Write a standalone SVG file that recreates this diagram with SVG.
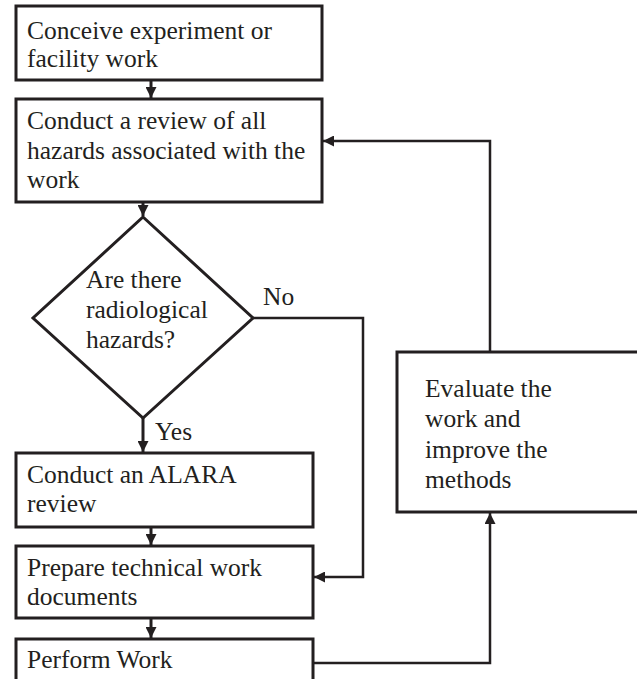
<svg xmlns="http://www.w3.org/2000/svg" width="637" height="679" viewBox="0 0 637 679">
<defs>
<style>
.box{fill:#fff;stroke:#231f20;stroke-width:3}
.t{font-family:"Liberation Serif","Times New Roman",serif;font-size:25.5px;fill:#231f20}
.c{fill:none;stroke:#231f20;stroke-width:3}
.c2{fill:none;stroke:#231f20;stroke-width:2.5}
</style>
<marker id="ah" viewBox="0 0 10 10" refX="10" refY="5" markerWidth="11" markerHeight="11" markerUnits="userSpaceOnUse" orient="auto">
<path d="M0,0 L10,5 L0,10 Z" fill="#231f20"/>
</marker>
</defs>
<rect width="637" height="679" fill="#fff"/>
<g id="connectors">
<line class="c" x1="151" y1="80" x2="151" y2="98" marker-end="url(#ah)"/>
<line class="c" x1="143" y1="202" x2="143" y2="216" marker-end="url(#ah)"/>
<line class="c" x1="143" y1="418" x2="143" y2="452" marker-end="url(#ah)"/>
<line class="c" x1="151" y1="527" x2="151" y2="545" marker-end="url(#ah)"/>
<line class="c" x1="151" y1="618" x2="151" y2="638" marker-end="url(#ah)"/>
<polyline class="c2" points="253,318 363,318 363,577 314,577" marker-end="url(#ah)"/>
<polyline class="c2" points="313,663 490,663 490,513" marker-end="url(#ah)"/>
<polyline class="c2" points="490,352 490,141 323,141" marker-end="url(#ah)"/>
<text class="t" x="263" y="305">No</text>
<text class="t" x="155" y="440">Yes</text>
</g>
<g id="conceive">
<rect class="box" x="16" y="6" width="306" height="74"/>
<text class="t" x="27" y="39">Conceive experiment or</text>
<text class="t" x="27" y="67">facility work</text>
</g>
<g id="review">
<rect class="box" x="16" y="99" width="306" height="103"/>
<text class="t" x="27" y="129">Conduct a review of all</text>
<text class="t" x="27" y="159">hazards associated with the</text>
<text class="t" x="27" y="188">work</text>
</g>
<g id="decision">
<polygon class="box" points="143,217 253,318 143,418 33,318"/>
<text class="t" x="86" y="288">Are there</text>
<text class="t" x="86" y="318">radiological</text>
<text class="t" x="86" y="348">hazards?</text>
</g>
<g id="alara">
<rect class="box" x="16" y="453" width="297" height="74"/>
<text class="t" x="27" y="483">Conduct an ALARA</text>
<text class="t" x="27" y="512">review</text>
</g>
<g id="prepare">
<rect class="box" x="16" y="546" width="297" height="72"/>
<text class="t" x="27" y="576">Prepare technical work</text>
<text class="t" x="27" y="605">documents</text>
</g>
<g id="perform">
<rect class="box" x="16" y="639" width="297" height="60"/>
<text class="t" x="27" y="668">Perform Work</text>
</g>
<g id="evaluate">
<rect class="box" x="397" y="352" width="260" height="160"/>
<text class="t" x="425" y="397">Evaluate the</text>
<text class="t" x="425" y="427">work and</text>
<text class="t" x="425" y="458">improve the</text>
<text class="t" x="425" y="488">methods</text>
</g>
</svg>
